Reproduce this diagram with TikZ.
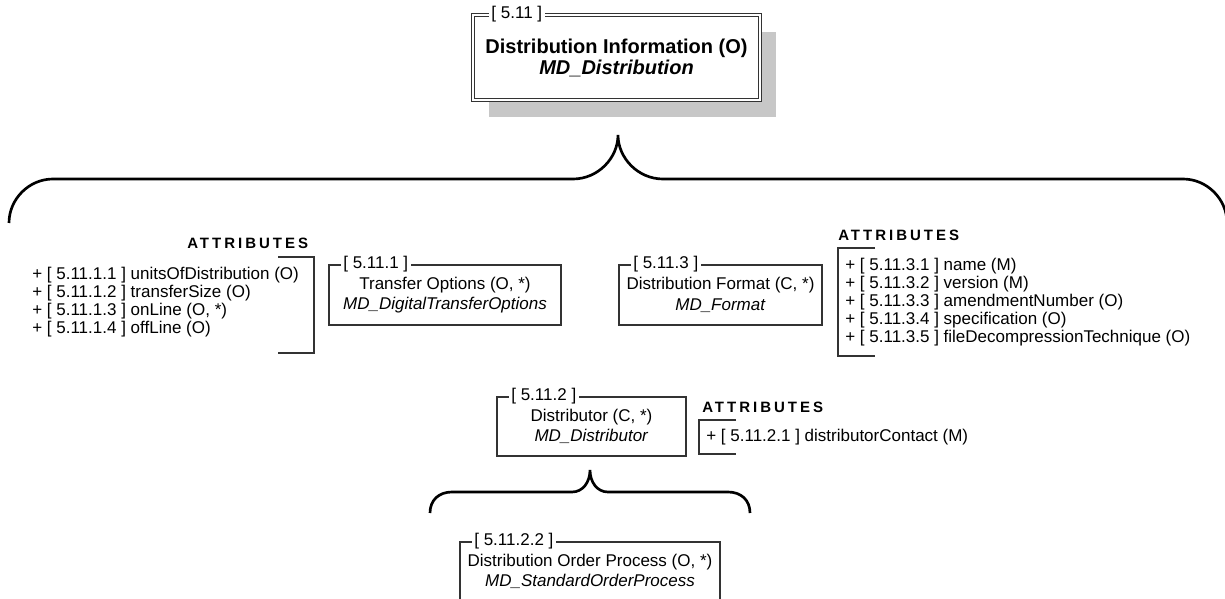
\documentclass[tikz,border=0pt]{standalone}
\usepackage{fontspec}
\setmainfont{Liberation Sans}
\newfontfamily\attrfont[LetterSpace=20]{Liberation Sans}
\usetikzlibrary{positioning,calc,shadows}

\begin{document}
\begin{tikzpicture}[x=0.75pt,y=-0.75pt,
  box/.style={draw=black!80,line width=0.9pt,fill=white,inner sep=0pt,align=center,font=\fontsize{12.75}{15.5}\selectfont},
  numtag/.style={fill=white,inner xsep=2pt,inner ysep=0pt,anchor=west,font=\fontsize{12.75}{14}\selectfont},
  attrhead/.style={anchor=west,inner sep=0pt,font=\attrfont\bfseries\fontsize{11.25}{13}\selectfont},
  attrlist/.style={anchor=west,inner sep=0pt,align=left,font=\fontsize{12.75}{13.5}\selectfont},
  bracket/.style={draw=black!80,line width=0.9pt},
  brace/.style={draw=black,line width=2pt}
]
\useasboundingbox (0,0) rectangle (1225,599);
\clip (0,0) rectangle (1225,599);

\node[box,double=white,double distance=1.5pt,line width=0.75pt,minimum width=215.25pt,minimum height=63.75pt,
  font=\bfseries\fontsize{15}{15.75}\selectfont,
  drop shadow={shadow xshift=12pt,shadow yshift=-12.75pt,fill=black!22,opacity=1}] (distInfo) at (616.5,57.5)
  {Distribution Information (O)\\\textit{MD\_Distribution}};
\node[numtag] (distInfoNum) at ($(distInfo.north west)+(16,0)$) {[ 5.11 ]};

\draw[brace] (9,223) .. controls (9,199) and (29,179) .. (53,179) -- (573,179)
  .. controls (598,179) and (618,158) .. (618,135) .. controls (618,158) and (638,179) .. (663,179)
  -- (1183,179) .. controls (1207,179) and (1227,199) .. (1227,223);

\node[attrhead] (leftHead) at (187,243) {ATTRIBUTES};
\node[attrlist] (leftList) at (32,302) {+ [ 5.11.1.1 ] unitsOfDistribution (O)\\+ [ 5.11.1.2 ] transferSize (O)\\+ [ 5.11.1.3 ] onLine (O, *)\\+ [ 5.11.1.4 ] offLine (O)};
\draw[bracket] (278,257) -- (314,257) -- (314,353) -- (278,353);

\node[box,minimum width=174pt,minimum height=45pt] (transferOpt) at (445,295) {Transfer Options (O, *)\\\textit{MD\_DigitalTransferOptions}};
\node[numtag] (transferNum) at ($(transferOpt.north west)+(12,0)$) {[ 5.11.1 ]};

\node[box,minimum width=152.25pt,minimum height=45pt] (distFormat) at (720.5,295) {Distribution Format (C, *)\\\textit{MD\_Format}};
\node[numtag] (formatNum) at ($(distFormat.north west)+(12,0)$) {[ 5.11.3 ]};

\node[attrhead] (rightHead) at (838,235) {ATTRIBUTES};
\node[attrlist] (rightList) at (845,302) {+ [ 5.11.3.1 ] name (M)\\+ [ 5.11.3.2 ] version (M)\\+ [ 5.11.3.3 ] amendmentNumber (O)\\+ [ 5.11.3.4 ] specification (O)\\+ [ 5.11.3.5 ] fileDecompressionTechnique (O)};
\draw[bracket] (875,248) -- (838,248) -- (838,356) -- (875,356);

\node[box,minimum width=141.75pt,minimum height=44.25pt] (distributor) at (591.5,426.5) {Distributor (C, *)\\\textit{MD\_Distributor}};
\node[numtag] (distributorNum) at ($(distributor.north west)+(12,0)$) {[ 5.11.2 ]};

\node[attrhead] (distrHead) at (702,407) {ATTRIBUTES};
\node[attrlist] (distrList) at (706,437) {+ [ 5.11.2.1 ] distributorContact (M)};
\draw[bracket] (736,420) -- (699,420) -- (699,454) -- (736,454);

\draw[brace] (430,513) .. controls (430,500) and (439,492) .. (452,492) -- (572,492)
  .. controls (583,492) and (590,482) .. (590,470) .. controls (590,482) and (597,492) .. (608,492)
  -- (728,492) .. controls (741,492) and (750,500) .. (750,513);

\node[box,minimum width=195pt,minimum height=44.25pt] (orderProcess) at (590,571.5) {Distribution Order Process (O, *)\\\textit{MD\_StandardOrderProcess}};
\node[numtag] (orderNum) at ($(orderProcess.north west)+(12,0)$) {[ 5.11.2.2 ]};
\end{tikzpicture}
\end{document}
